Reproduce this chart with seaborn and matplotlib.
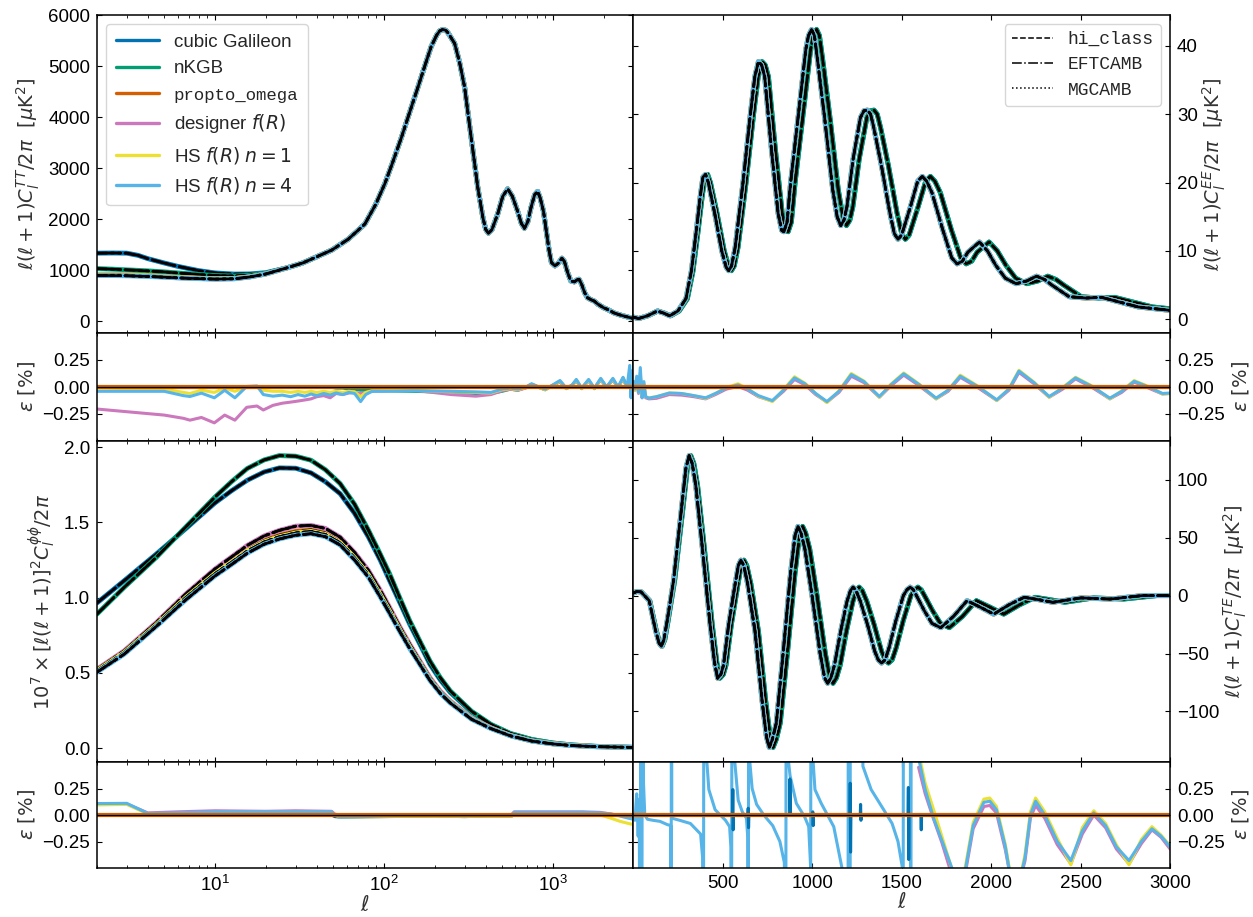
import matplotlib
matplotlib.use("Agg")
import matplotlib.pyplot as plt
from matplotlib.lines import Line2D
import seaborn as sns

# ------------------------------------------------------------------ data
model_names = ["cubic Galileon", "nKGB", "propto_omega",
               r"designer $f(R)$", r"HS $f(R)$ $n=1$", r"HS $f(R)$ $n=4$"]
code_names = ["hi_class", "EFTCAMB", "MGCAMB"]

# TT: low-ell part differs between models, high-ell part is shared
ell_tt_lo = [2, 2.5, 3, 3.5, 4, 5, 6, 8, 10, 13, 16, 20]
tt_lo_cubic = [1333, 1336, 1333, 1290, 1225, 1140, 1075, 990, 945, 922, 925, 950]
tt_lo_nkgb = [1030, 1018, 1005, 995, 985, 965, 945, 915, 895, 885, 900, 940]
tt_lo_propto = [915, 912, 905, 898, 890, 875, 860, 842, 832, 836, 870, 925]
tt_lo_designer = [905, 903, 898, 890, 882, 868, 852, 836, 826, 832, 866, 925]
tt_lo_hs1 = [910, 907, 901, 894, 886, 871, 856, 839, 829, 834, 868, 925]
tt_lo_hs4 = [895, 893, 889, 882, 875, 862, 848, 833, 824, 830, 865, 925]
ell_tt_hi = [27, 33, 39, 49, 61.5, 77, 89, 101, 113, 127, 142, 159, 175, 190, 205,
             214, 223, 232, 240, 262, 280, 300, 328, 359, 385, 400, 415, 435, 471, 505,
             540, 575, 619, 650, 678, 710, 742, 780, 812, 840, 880, 920, 950, 980, 1028,
             1080, 1130, 1170, 1220, 1277, 1340, 1400, 1429, 1480, 1540, 1602, 1680,
             1754, 1850, 2000, 2104, 2300, 2500, 2700, 3000]
tt_hi = [1050, 1140, 1246, 1392, 1608, 1903, 2280, 2690, 3130, 3608, 4100, 4593, 5020,
         5380, 5610, 5695, 5722, 5705, 5650, 5447, 5080, 4593, 3608, 2624, 2033, 1800,
         1725, 1790, 2100, 2450, 2593, 2450, 2150, 1920, 1820, 1950, 2230, 2480, 2545,
         2420, 2150, 1700, 1380, 1150, 1083, 1140, 1234, 1170, 960, 787, 770, 815, 820,
         720, 560, 459, 420, 394, 330, 260, 230, 160, 120, 90, 50]

# EE: two families of models, the second with peaks at slightly larger ell
ell_ee_a = [2, 30, 80, 135, 170, 204, 250, 295, 325, 352, 375, 390, 405, 420, 455, 495,
            520, 534, 550, 570, 614, 655, 680, 700, 718, 735, 773, 810, 830, 842, 860,
            880, 933, 965, 980, 997, 1013, 1030, 1069, 1115, 1140, 1160, 1178, 1195,
            1229, 1270, 1290, 1309, 1327, 1345, 1388, 1435, 1460, 1480, 1500, 1550,
            1590, 1616, 1640, 1670, 1730, 1780, 1810, 1840, 1870, 1935, 1980, 2026,
            2080, 2140, 2200, 2254, 2300, 2340, 2436, 2530, 2618, 2720, 2822, 3000]
ell_ee_b = [2, 31, 82, 139, 175, 210, 257, 303, 334, 362, 386, 401, 416, 432, 468, 509,
            535, 549, 565, 586, 631, 673, 699, 720, 738, 756, 795, 833, 853, 866, 884,
            905, 959, 992, 1007, 1025, 1041, 1059, 1099, 1146, 1172, 1192, 1211, 1228,
            1263, 1306, 1326, 1346, 1364, 1383, 1427, 1475, 1501, 1521, 1542, 1593,
            1635, 1661, 1686, 1717, 1778, 1830, 1861, 1892, 1922, 1989, 2035, 2083,
            2138, 2200, 2262, 2317, 2364, 2406, 2504, 2601, 2691, 2796, 2901, 3084]
ee_vals = [0.3, 0.1, 0.5, 1.2, 0.9, 0.5, 1.2, 3.0, 7.0, 12.7, 18.0, 20.8, 21.2, 20.0,
           15.6, 10.0, 7.6, 7.1, 7.8, 10.5, 20.0, 30.0, 35.5, 37.7, 37.2, 35.5, 24.8,
           15.5, 13.0, 12.8, 14.2, 20.0, 32.1, 39.5, 41.5, 42.4, 41.5, 38.0, 29.7, 19.0,
           15.0, 13.7, 14.5, 16.5, 23.4, 29.5, 30.5, 30.6, 30.0, 28.0, 22.4, 15.5, 12.5,
           11.7, 12.3, 16.5, 20.2, 20.9, 20.2, 18.5, 13.1, 9.0, 8.1, 8.5, 9.8, 11.3,
           10.0, 7.9, 6.0, 5.2, 5.6, 6.3, 5.8, 5.0, 3.3, 3.1, 3.2, 2.5, 1.8, 1.3]

# TE
ell_te_a = [2, 20, 44, 90, 125, 145, 158, 172, 190, 226, 270, 295, 313, 330, 350, 386,
            430, 455, 472, 490, 505, 534, 570, 588, 602, 618, 640, 681, 720, 745, 761,
            778, 800, 841, 880, 905, 921, 938, 960, 1001, 1045, 1070, 1087, 1105, 1125,
            1160, 1195, 1215, 1229, 1245, 1270, 1309, 1350, 1370, 1388, 1408, 1430,
            1468, 1510, 1530, 1548, 1566, 1590, 1627, 1670, 1719, 1790, 1866, 1940,
            2015, 2100, 2185, 2265, 2345, 2420, 2503, 2665, 2846, 3000]
ell_te_b = [2, 21, 45, 93, 129, 149, 162, 177, 195, 232, 278, 303, 322, 339, 360, 397,
            442, 468, 485, 504, 519, 549, 586, 604, 619, 635, 658, 700, 740, 766, 782,
            800, 822, 865, 905, 930, 947, 964, 987, 1029, 1074, 1100, 1117, 1136, 1157,
            1192, 1228, 1249, 1263, 1280, 1306, 1346, 1388, 1408, 1427, 1447, 1470,
            1509, 1552, 1573, 1591, 1610, 1635, 1673, 1717, 1767, 1840, 1918, 1994,
            2071, 2159, 2246, 2328, 2411, 2488, 2573, 2740, 2926, 3084]
te_vals = [2.3, 3.5, 3.2, -4.4, -30, -41, -43.7, -38, -22, 13.1, 75, 110, 120.8, 114, 95,
           42.2, -25, -58, -71.3, -68, -60, -24.7, 10, 26, 30.6, 26, 10, -30.6, -90,
           -122, -131, -124, -110, -45, 20, 52, 59.7, 54, 40, -1.5, -50, -71, -75.7, -71,
           -60, -30.6, -5, 4.5, 7.3, 4.5, -5, -24.7, -48, -55.5, -58.2, -55.5, -45,
           -21.8, 0, 5, 7.3, 5, -2, -13, -24, -27.7, -18, -4.4, -10, -16, -8, -1.5,
           -3.5, -5.8, -4, -2, -3, 0, 0]

# lensing potential
ell_pp = [2, 2.9, 4.5, 6.7, 10, 12.5, 15.5, 19.5, 24, 30, 37, 45, 55, 67, 81, 95, 108,
          125, 142, 165, 187, 215, 247, 330, 430, 560, 750, 1000, 1300, 1800, 3000]
pp_cubic = [0.965, 1.113, 1.291, 1.458, 1.63, 1.71, 1.78, 1.835, 1.862, 1.86, 1.829,
            1.77, 1.691, 1.56, 1.402, 1.25, 1.113, 0.96, 0.824, 0.68, 0.558, 0.455,
            0.37, 0.24, 0.155, 0.096, 0.057, 0.034, 0.021, 0.012, 0.005]
pp_nkgb = [0.891, 1.069, 1.269, 1.469, 1.669, 1.77, 1.858, 1.915, 1.944, 1.94, 1.913,
           1.85, 1.758, 1.62, 1.447, 1.29, 1.158, 0.99, 0.847, 0.70, 0.580, 0.47, 0.380,
           0.245, 0.158, 0.098, 0.058, 0.034, 0.021, 0.012, 0.005]
pp_propto = [0.52, 0.64, 0.826, 1.008, 1.17, 1.245, 1.32, 1.38, 1.415, 1.44, 1.45, 1.43,
             1.375, 1.275, 1.16, 1.03, 0.918, 0.787, 0.678, 0.56, 0.461, 0.373, 0.308,
             0.197, 0.133, 0.084, 0.048, 0.029, 0.018, 0.01, 0.005]
pp_designer = [0.524, 0.647, 0.836, 1.024, 1.191, 1.27, 1.347, 1.41, 1.447, 1.475, 1.48,
               1.46, 1.402, 1.30, 1.18, 1.05, 0.935, 0.80, 0.691, 0.57, 0.469, 0.38,
               0.313, 0.20, 0.135, 0.085, 0.049, 0.03, 0.018, 0.01, 0.005]
pp_hs1 = [0.515, 0.635, 0.82, 1.0, 1.16, 1.235, 1.31, 1.37, 1.405, 1.43, 1.44, 1.42,
          1.365, 1.265, 1.15, 1.02, 0.91, 0.78, 0.672, 0.555, 0.457, 0.37, 0.305, 0.195,
          0.132, 0.083, 0.048, 0.029, 0.018, 0.01, 0.005]
pp_hs4 = [0.505, 0.625, 0.81, 0.985, 1.145, 1.22, 1.295, 1.355, 1.39, 1.415, 1.425,
          1.405, 1.35, 1.25, 1.135, 1.005, 0.895, 0.768, 0.662, 0.547, 0.45, 0.365, 0.30,
          0.192, 0.13, 0.082, 0.047, 0.028, 0.017, 0.01, 0.005]

# relative differences between codes, in percent
ell_ttr = [2, 5, 6.5, 7.1, 8.3, 9.9, 11.4, 13.1, 15.4, 17.7, 19.3, 22, 25, 28, 31, 34,
           37, 40, 44, 48, 52, 57, 62, 67, 72.7, 78, 85, 100, 150, 250, 350, 430, 500,
           560, 620, 690, 748, 830, 900, 1000, 1101, 1200, 1300, 1376, 1480, 1627, 1760,
           1919, 2080, 2265, 2430, 2602, 2750, 2850, 2900, 2950, 3000]
ttr_nkgb = [0.0, 0.0, 0.0, 0.0, 0.0, 0.0, 0.0, 0.0, 0.0, 0.0, 0.0, 0.0, 0.0, 0.0, 0.0,
            0.0, 0.0, 0.0, 0.0, 0.0, -0.01, -0.01, -0.02, -0.02, -0.03, -0.03, -0.03,
            -0.035, -0.04, -0.05, -0.06, -0.06, -0.04, -0.02, -0.03, -0.005, 0.025,
            -0.005, -0.025, 0.015, 0.05, -0.015, 0.015, 0.06, -0.015, 0.06, -0.015, 0.07,
            -0.005, 0.07, -0.005, 0.08, -0.005, 0.08, -0.03, 0.06, -0.02]
ttr_designer = [-0.204, -0.26, -0.29, -0.307, -0.282, -0.332, -0.26, -0.307, -0.188,
                -0.176, -0.213, -0.17, -0.15, -0.14, -0.13, -0.12, -0.11, -0.09, -0.08,
                -0.1, -0.06, -0.07, -0.055, -0.05, -0.06, -0.05, -0.04, -0.035, -0.03,
                -0.07, -0.085, -0.07, -0.035, -0.02, -0.03, -0.01, 0.025, -0.005,
                -0.025, 0.015, 0.05, -0.015, 0.015, 0.06, -0.015, 0.06, -0.015, 0.07,
                -0.005, 0.07, -0.005, 0.08, -0.005, 0.1, -0.05, 0.08, -0.02]
ttr_hs1 = [-0.01, -0.02, -0.05, -0.06, -0.03, -0.05, -0.01, -0.04, 0.0, 0.0, -0.03,
           -0.04, -0.04, -0.05, -0.04, -0.05, -0.04, -0.05, -0.04, -0.05, -0.04, -0.05,
           -0.04, -0.045, -0.09, -0.05, -0.035, -0.035, -0.03, -0.045, -0.05, -0.055,
           -0.025, -0.015, -0.025, -0.005, 0.025, -0.005, -0.025, 0.015, 0.055, -0.015,
           0.015, 0.065, -0.015, 0.065, -0.015, 0.075, -0.005, 0.075, -0.005, 0.085,
           -0.005, 0.05, -0.02, 0.04, -0.02]
ttr_hs4 = [-0.04, -0.04, -0.08, -0.088, -0.057, -0.10, -0.03, -0.10, 0.005, 0.01, -0.07,
           -0.085, -0.075, -0.09, -0.07, -0.085, -0.065, -0.08, -0.06, -0.075, -0.055,
           -0.07, -0.05, -0.06, -0.135, -0.07, -0.04, -0.04, -0.035, -0.04, -0.045,
           -0.05, -0.02, -0.01, -0.02, 0.0, 0.03, 0.0, -0.02, 0.02, 0.06, -0.01, 0.02,
           0.07, -0.01, 0.07, -0.01, 0.08, 0.0, 0.08, 0.0, 0.09, 0.0, 0.2, -0.1, 0.15,
           -0.05]

ell_eer = [2, 10, 20, 30, 40, 50, 60, 70, 88, 130, 202, 270, 340, 405, 460, 520, 586,
           640, 700, 778, 840, 902, 960, 1020, 1083, 1150, 1219, 1290, 1376, 1440, 1512,
           1600, 1693, 1760, 1828, 1930, 2032, 2100, 2156, 2240, 2325, 2400, 2472, 2570,
           2664, 2730, 2800, 2880, 2958, 3000]
eer_designer = [0.03, -0.03, 0.05, -0.06, 0.1, -0.1, 0.0, -0.1, -0.11, -0.105, -0.07,
                -0.075, -0.09, -0.11, -0.07, -0.02, 0.005, -0.03, -0.09, -0.13, -0.04,
                0.07, 0.02, -0.07, -0.14, -0.05, 0.10, 0.04, -0.095, 0.01, 0.11, 0.01,
                -0.11, -0.04, 0.09, -0.01, -0.125, -0.03, 0.135, 0.03, -0.095, -0.02,
                0.075, -0.01, -0.11, -0.05, 0.045, -0.01, -0.065, -0.06]
eer_hs1 = [0.04, -0.03, 0.08, -0.05, 0.12, -0.09, 0.03, -0.09, -0.10, -0.09, -0.055,
           -0.06, -0.08, -0.105, -0.06, -0.005, 0.03, -0.015, -0.085, -0.135, -0.025,
           0.095, 0.035, -0.06, -0.145, -0.035, 0.125, 0.055, -0.095, 0.025, 0.13,
           0.025, -0.11, -0.03, 0.11, 0.005, -0.125, -0.015, 0.155, 0.045, -0.095,
           -0.005, 0.09, 0.005, -0.11, -0.035, 0.06, 0.005, -0.065, -0.06]
eer_hs4 = [0.05, -0.02, 0.1, -0.05, 0.18, -0.1, 0.05, -0.09, -0.103, -0.09, -0.056,
           -0.06, -0.08, -0.10, -0.06, -0.01, 0.02, -0.02, -0.08, -0.126, -0.03, 0.084,
           0.03, -0.06, -0.135, -0.04, 0.115, 0.05, -0.088, 0.02, 0.122, 0.02, -0.103,
           -0.03, 0.10, 0.0, -0.119, -0.02, 0.147, 0.04, -0.088, -0.01, 0.084, 0.0,
           -0.103, -0.04, 0.053, 0.0, -0.06, -0.056]

ell_ter_hs4 = [2, 10, 20, 28, 34, 40, 44, 48, 52, 58, 65, 80, 110, 150, 190, 210, 212,
               214, 216, 260, 320, 377, 388, 392, 396, 402, 412, 423, 458, 516, 539, 546,
               549, 553, 562, 568, 587, 610, 633, 640, 643, 646, 652, 665, 690, 730, 780,
               820, 845, 852, 856, 862, 877, 912, 958, 981, 992, 995, 1002, 1016, 1051,
               1121, 1167, 1185, 1200, 1203, 1206, 1212, 1214, 1270, 1284, 1330, 1400,
               1447, 1480, 1505, 1508, 1511, 1548, 1551, 1555, 1586, 1600, 1632, 1679,
               1725, 1783, 1820, 1853, 1900, 1960, 1993, 2030, 2080, 2110, 2150, 2190,
               2220, 2249, 2300, 2370, 2446, 2510, 2574, 2640, 2700, 2771, 2840, 2899,
               2950, 3000]
ter_hs4 = [0.0, -0.05, 0.2, -0.2, 0.15, -3, 3, -3, 3, 0.3, 0.0, -0.04, -0.05, -0.06,
           -0.09, -0.1, -3, 3, -0.03, -0.05, -0.08, -0.18, -0.4, -3, 3, 3, 0.5, 0.24,
           0.05, -0.05, -0.11, -0.3, -3, 3, 0.8, 0.5, 0.14, 0.03, -0.03, -0.2, -3, 3,
           0.5, 0.25, 0.1, 0.0, -0.1, -0.25, -0.45, -3, 3, 0.6, 0.37, 0.11, -0.016,
           -0.11, -0.5, 3, 0.6, 0.24, 0.11, -0.11, -0.5, -1.0, -3, 3, -3, -3, 3, 3, 0.46,
           0.24, 0.05, -0.08, -0.25, -0.5, -3, 3, 3, -3, 3, 3, 0.5, 0.24, -0.03, -0.24,
           -0.51, -0.9, -0.55, -0.1, 0.12, 0.13, 0.05, -0.3, -0.6, -0.7, -0.4, 0.0,
           0.13, 0.0, -0.25, -0.43, -0.15, 0.02, -0.1, -0.3, -0.43, -0.25, -0.13, -0.2,
           -0.3]
ell_ter_cubic = [2, 555, 557, 559, 561, 641, 643, 645, 647, 874, 876, 878, 880, 1002,
                 1004, 1006, 1008, 1211, 1213, 1215, 1217, 1269, 1271, 1273, 1275, 1536,
                 1538, 1540, 1542, 1606, 1608, 1610, 1612, 3000]
ter_cubic = [0, 0, 0.24, -0.14, 0, 0, 0.064, -0.12, 0, 0, 0.34, 0.14, 0, 0, 0.03, -0.1,
             0, 0, 0.3, -0.35, 0, 0, 0.1, -0.05, 0, 0, 0.26, -0.42, 0, 0, -0.016, -0.14,
             0, 0]
ell_ter_designer = [1595, 1632, 1679, 1725, 1783, 1820, 1853, 1900, 1960, 1993, 2030,
                    2080, 2110, 2150, 2190, 2220, 2249, 2300, 2370, 2446, 2510, 2574,
                    2640, 2700, 2771, 2840, 2899, 2950, 3000]
ter_designer = [0.45, 0.2, -0.04, -0.26, -0.58, -0.9, -0.58, -0.13, 0.08, 0.09, 0.02,
                -0.33, -0.6, -0.7, -0.43, -0.03, 0.09, -0.03, -0.28, -0.46, -0.18, 0.0,
                -0.12, -0.32, -0.46, -0.27, -0.14, -0.21, -0.32]
ell_ter_hs1 = [1560, 1580, 1600, 1632, 1679, 1725, 1783, 1820, 1853, 1900, 1960, 1993,
               2030, 2080, 2110, 2150, 2190, 2220, 2249, 2300, 2370, 2446, 2510, 2574,
               2640, 2700, 2771, 2840, 2899, 2950, 3000]
ter_hs1 = [3, 0.8, 0.55, 0.3, 0.05, -0.2, -0.52, -0.9, -0.52, -0.07, 0.15, 0.16, 0.08,
           -0.28, -0.58, -0.7, -0.37, 0.03, 0.16, 0.03, -0.22, -0.47, -0.12, 0.04, -0.08,
           -0.28, -0.47, -0.23, -0.11, -0.19, -0.29]

ell_ppr = [2, 3, 4, 6, 10, 20, 30, 49, 51, 55, 100, 200, 300, 400, 570, 590, 1000, 1500,
           1900, 2200, 2500, 2800, 3000]
ppr_cubic = [0, 0, 0, 0, 0, 0, 0, 0, -0.015, -0.02, -0.015, -0.01, -0.015, -0.01, -0.01,
             0, 0, 0, 0, 0, 0, 0, 0]
ppr_designer = [0.1, 0.105, 0.02, 0.03, 0.04, 0.035, 0.04, 0.035, 0.01, -0.005, 0.0,
                0.0, 0.0, 0.0, 0.005, 0.03, 0.03, 0.03, 0.025, 0.01, -0.005, -0.02, -0.03]
ppr_hs1 = [0.095, 0.1, 0.01, 0.015, 0.025, 0.025, 0.025, 0.025, 0.0, -0.02, -0.015,
           -0.01, -0.015, -0.01, -0.01, 0.02, 0.02, 0.02, 0.0, -0.03, -0.06, -0.08, -0.09]
ppr_hs4 = [0.108, 0.11, 0.015, 0.02, 0.03, 0.03, 0.03, 0.03, 0.0, -0.02, -0.01, -0.005,
           -0.01, -0.005, -0.005, 0.025, 0.025, 0.025, 0.02, 0.01, -0.01, -0.03, -0.04]
ell_zero = [2, 3000]
res_zero = [0.0, 0.0]

# ------------------------------------------------------------------ style
sns.set_style("ticks")
plt.rcParams.update({
    "font.family": ["Liberation Sans", "DejaVu Sans"],
    "mathtext.fontset": "dejavusans",
    "axes.linewidth": 1.1,
    "axes.edgecolor": "black",
    "xtick.color": "black", "ytick.color": "black",
    "xtick.direction": "in", "ytick.direction": "in",
    "xtick.labelsize": 13.5, "ytick.labelsize": 13.5,
    "xtick.major.pad": 5, "ytick.major.pad": 5,
})
MONO = "Liberation Mono"

pal = sns.color_palette("colorblind")
colors = [pal[0], pal[2], pal[3], pal[4], pal[8], pal[9]]
c_cubic, c_nkgb, c_propto, c_designer, c_hs1, c_hs4 = colors

fig = plt.figure(figsize=(12.53, 9.17), dpi=100)
gs = fig.add_gridspec(4, 2, height_ratios=[318, 108, 321, 106], hspace=0, wspace=0,
                      left=97 / 1253, right=1170 / 1253,
                      top=1 - 15 / 917, bottom=1 - 868 / 917)
axes = [[fig.add_subplot(gs[r, c]) for c in range(2)] for r in range(4)]
for r in range(4):
    axes[r][0].set_xscale("log")


def curve(ax, x, y, color, lw, ls="-"):
    sns.lineplot(x=x, y=y, ax=ax, color=color, linewidth=lw, linestyle=ls,
                 estimator=None, sort=False, legend=False, dash_capstyle="round")


def spectrum(ax, x, y, color, mgcamb):
    curve(ax, x, y, color, 3.5)
    curve(ax, x, y, "black", 1.9, "--")
    curve(ax, x, y, "black", 1.9, "-.")
    if mgcamb:
        curve(ax, x, y, "black", 1.9, ":")


# TT
ax = axes[0][0]
for lo, col, mg in [(tt_lo_cubic, c_cubic, False), (tt_lo_nkgb, c_nkgb, False),
                    (tt_lo_propto, c_propto, False), (tt_lo_designer, c_designer, True),
                    (tt_lo_hs1, c_hs1, True), (tt_lo_hs4, c_hs4, True)]:
    spectrum(ax, ell_tt_lo + ell_tt_hi, lo + tt_hi, col, mg)

# EE and TE
for ax, ell_a, ell_b, vals in [(axes[0][1], ell_ee_a, ell_ee_b, ee_vals),
                               (axes[2][1], ell_te_a, ell_te_b, te_vals)]:
    spectrum(ax, ell_b, vals, c_cubic, False)
    spectrum(ax, ell_b, vals, c_nkgb, False)
    spectrum(ax, ell_a, vals, c_propto, False)
    spectrum(ax, ell_a, vals, c_designer, True)
    spectrum(ax, ell_a, vals, c_hs1, True)
    spectrum(ax, ell_a, vals, c_hs4, True)

# phi-phi
ax = axes[2][0]
for vals, col, mg in [(pp_cubic, c_cubic, False), (pp_nkgb, c_nkgb, False),
                      (pp_propto, c_propto, False), (pp_designer, c_designer, True),
                      (pp_hs1, c_hs1, True), (pp_hs4, c_hs4, True)]:
    spectrum(ax, ell_pp, vals, col, mg)

# residual panels
RLW = 2.2
ax = axes[1][0]
curve(ax, ell_zero, res_zero, c_cubic, RLW)
curve(ax, ell_ttr, ttr_nkgb, c_nkgb, RLW)
curve(ax, ell_ttr, ttr_designer, c_designer, RLW)
curve(ax, ell_ttr, ttr_hs1, c_hs1, RLW)
curve(ax, ell_ttr, ttr_hs4, c_hs4, RLW)

ax = axes[1][1]
curve(ax, ell_zero, res_zero, c_cubic, RLW)
curve(ax, ell_eer, eer_designer, c_designer, RLW)
curve(ax, ell_eer, eer_hs1, c_hs1, RLW)
curve(ax, ell_eer, eer_hs4, c_hs4, RLW)

ax = axes[3][0]
curve(ax, ell_ppr, ppr_cubic, c_cubic, RLW)
curve(ax, ell_ppr, ppr_designer, c_designer, RLW)
curve(ax, ell_ppr, ppr_hs1, c_hs1, RLW)
curve(ax, ell_ppr, ppr_hs4, c_hs4, RLW)

ax = axes[3][1]
curve(ax, ell_ter_designer, ter_designer, c_designer, RLW)
curve(ax, ell_ter_hs1, ter_hs1, c_hs1, RLW)
curve(ax, ell_ter_hs4, ter_hs4, c_hs4, RLW)
curve(ax, ell_ter_cubic, ter_cubic, c_cubic, RLW)

for r in (1, 3):
    for c in (0, 1):
        ax = axes[r][c]
        curve(ax, ell_zero, res_zero, c_propto, 3.0)
        ax.axhline(0, color="black", lw=0.9, zorder=5)
        ax.set_ylim(-0.5, 0.5)
        ax.set_yticks([-0.25, 0.0, 0.25])

# ------------------------------------------------------------------ axes cosmetics
LAB = dict(fontsize=14, color="#333333")
axes[0][0].set_yticks([0, 1000, 2000, 3000, 4000, 5000, 6000])
axes[0][1].set_yticks([0, 10, 20, 30, 40])
axes[2][0].set_yticks([0.0, 0.5, 1.0, 1.5, 2.0])
axes[2][1].set_yticks([-100, -50, 0, 50, 100])

axes[0][0].set_ylabel(r"$\ell(\ell+1)C_l^{TT}/2\pi\ \ [\mu\mathrm{K}^2]$", **LAB)
axes[0][1].set_ylabel(r"$\ell(\ell+1)C_l^{EE}/2\pi\ \ [\mu\mathrm{K}^2]$", labelpad=2,
                      **LAB)
axes[2][0].set_ylabel(r"$10^7\times[\ell(\ell+1)]^2C_l^{\phi\phi}/2\pi$", **LAB)
axes[2][1].set_ylabel(r"$\ell(\ell+1)C_l^{TE}/2\pi\ \ [\mu\mathrm{K}^2]$", labelpad=2,
                      **LAB)
for r in (1, 3):
    for c in (0, 1):
        axes[r][c].set_ylabel(r"$\epsilon\ [\%]$", **LAB)

for r in range(4):
    for c in range(2):
        ax = axes[r][c]
        ax.set_xlim(2, 3000)
        ax.tick_params(axis="both", which="both", direction="in",
                       top=True, bottom=True, left=True, right=True)
        if c == 1:
            ax.yaxis.set_label_position("right")
            ax.tick_params(axis="y", which="both", labelleft=False, labelright=True)
        else:
            ax.tick_params(axis="y", which="both", labelleft=True, labelright=False)
        if r < 3:
            ax.tick_params(axis="x", which="both", labelbottom=False)
        else:
            ax.set_xlabel(r"$\ell$", fontsize=15, color="#333333", labelpad=0)
        if c == 1 and r == 3:
            ax.set_xticks([500, 1000, 1500, 2000, 2500, 3000])
        for sp in ax.spines.values():
            sp.set_visible(True)
            sp.set_color("black")

# legends
h_models = [Line2D([], [], color=col, lw=2.4) for col in colors]
leg1 = axes[0][0].legend(h_models, model_names, loc="upper left", fontsize=13.5,
                         handlelength=2.3, labelspacing=0.5, borderpad=0.5)
for t in leg1.get_texts():
    if t.get_text() == "propto_omega":
        t.set_fontfamily(MONO)
        t.set_fontsize(12.5)
h_codes = [Line2D([], [], color="black", lw=1.1, ls=ls) for ls in ("--", "-.", ":")]
axes[0][1].legend(h_codes, code_names, loc="upper right",
                  prop={"family": MONO, "size": 13}, handlelength=2.3,
                  labelspacing=0.45)

fig.savefig("out.png", dpi=100)
